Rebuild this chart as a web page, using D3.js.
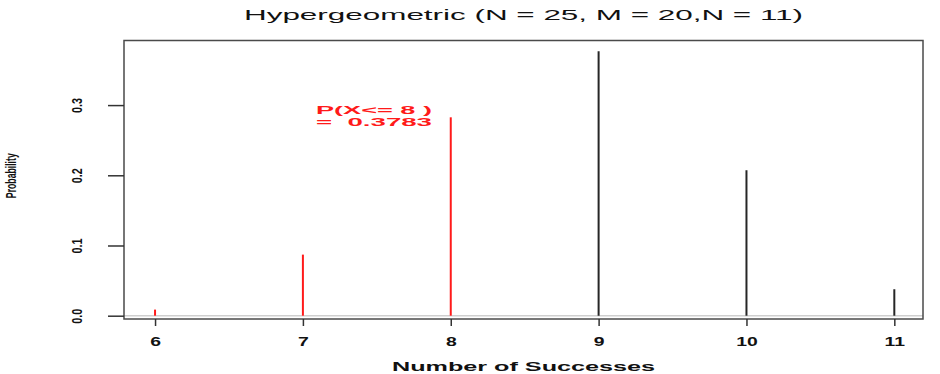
<!DOCTYPE html>
<html>
<head>
<meta charset="utf-8">
<script src="https://cdn.jsdelivr.net/npm/d3@7"></script>
<style>
  body { margin: 0; background: #fff; }
  text { font-family: "Liberation Sans", Arial, sans-serif; white-space: pre; }
</style>
</head>
<body>
<svg id="chart"></svg>
<script>
// data
const successes = [6, 7, 8, 9, 10, 11];
const probs = [0.0087, 0.0870, 0.2826, 0.3768, 0.2072, 0.0377];
const cutoff = 8;
const cumLabel = ["P(X<= 8 )", "=  0.3783"];
const yTicks = [0, 0.1, 0.2, 0.3];
const yTickLabels = ["0.0", "0.1", "0.2", "0.3"];
const titleText = "Hypergeometric (N = 25, M = 20,N = 11)";

const width = 940;
const height = 374;
const box = {left: 124, right: 923, top: 40.5, bottom: 319};

const svg = d3.select("#chart")
              .attr("width", width)
              .attr("height", height);

const x = d3.scaleLinear().domain([5.79, 11.194]).range([box.left, box.right]);
const y = d3.scaleLinear().domain([-0.0047, 0.392]).range([box.bottom, box.top]);

// squeeze/stretch text to a target length with a plain transform
function fitWidth(sel, target, base) {
  sel.each(function() {
    const w = this.getComputedTextLength();
    d3.select(this).attr("transform", base + ` scale(${target / w},1)`);
  });
}

// horizontal line at zero
svg.append("line")
    .attr("x1", box.left).attr("x2", box.right)
    .attr("y1", y(0)).attr("y2", y(0))
    .attr("stroke", "#cfcfcf")
    .attr("stroke-width", 1.5);

// spikes
svg.append("g").selectAll("line")
    .data(successes)
    .enter()
    .append("line")
      .attr("x1", d => x(d)).attr("x2", d => x(d))
      .attr("y1", y(0))
      .attr("y2", (d, i) => y(probs[i]))
      .attr("stroke", d => d <= cutoff ? "#ff1a1a" : "#262626")
      .attr("stroke-width", 2);

// box
svg.append("rect")
    .attr("x", box.left).attr("y", box.top)
    .attr("width", box.right - box.left)
    .attr("height", box.bottom - box.top)
    .attr("fill", "none")
    .attr("stroke", "#4a4a4a")
    .attr("stroke-width", 1.5);

// x axis
const xAxis = svg.append("g")
    .attr("transform", `translate(0,${box.bottom})`)
    .call(d3.axisBottom(x).tickValues(successes).tickSize(7).tickPadding(11).tickFormat(d3.format("d")));
xAxis.select(".domain").remove();
xAxis.selectAll(".tick line").attr("stroke", "#333").attr("stroke-width", 1.5);
xAxis.selectAll(".tick text")
    .attr("font-size", 12.5)
    .attr("font-weight", "bold")
    .attr("fill", "#111")
    .each(function() {
      const w = this.getComputedTextLength();
      d3.select(this).attr("textLength", w * 1.55).attr("lengthAdjust", "spacingAndGlyphs");
    });

// y axis
const yAxis = svg.append("g")
    .attr("transform", `translate(${box.left},0)`)
    .call(d3.axisLeft(y).tickValues(yTicks).tickSize(16).tickFormat((d, i) => yTickLabels[i]));
yAxis.select(".domain").remove();
yAxis.selectAll(".tick line").attr("stroke", "#333").attr("stroke-width", 1.5);
yAxis.selectAll(".tick text")
    .attr("x", 0)
    .attr("y", 0)
    .attr("dy", 0)
    .attr("text-anchor", "middle")
    .attr("font-size", 14)
    .attr("font-weight", "bold")
    .attr("fill", "#111")
    .call(fitWidth, 15, "translate(-42.5,0) rotate(-90)");

// title
svg.append("text")
    .attr("x", 523.5).attr("y", 19.5)
    .attr("text-anchor", "middle")
    .attr("font-size", 14)
    .attr("fill", "#111")
    .attr("textLength", 559)
    .attr("lengthAdjust", "spacingAndGlyphs")
    .text(titleText);

// x title
svg.append("text")
    .attr("x", 523.5).attr("y", 371)
    .attr("text-anchor", "middle")
    .attr("font-size", 12)
    .attr("font-weight", "bold")
    .attr("fill", "#111")
    .attr("textLength", 263)
    .attr("lengthAdjust", "spacingAndGlyphs")
    .text("Number of Successes");

// y title
svg.append("text")
    .attr("text-anchor", "middle")
    .attr("font-size", 14)
    .attr("font-weight", "bold")
    .attr("fill", "#111")
    .text("Probability")
    .call(fitWidth, 45, "translate(15.5,175.7) rotate(-90)");

// cumulative probability annotation
svg.append("g").selectAll("text")
    .data(cumLabel)
    .enter()
    .append("text")
      .attr("x", 316)
      .attr("y", (d, i) => 114 + i * 12.3)
      .attr("font-size", 11)
      .attr("font-weight", "bold")
      .attr("fill", "#ff1a1a")
      .attr("textLength", 116)
      .attr("lengthAdjust", "spacingAndGlyphs")
      .text(d => d);
</script>
</body>
</html>
